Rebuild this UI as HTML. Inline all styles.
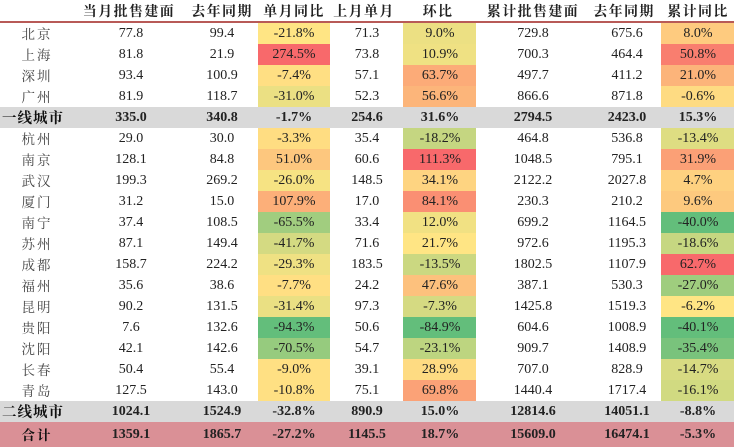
<!DOCTYPE html>
<html><head><meta charset="utf-8">
<style>
html,body{margin:0;padding:0;background:#fff;}
#t{position:relative;width:734px;height:447px;overflow:hidden;font-family:"Liberation Serif","Noto Serif CJK SC",serif;color:#222;}
.c{position:absolute;white-space:nowrap;transform:translateX(-50%);font-size:14px;line-height:21px;}
.h{position:absolute;top:1px;white-space:nowrap;transform:translateX(-50%);font-size:14px;font-weight:bold;letter-spacing:1.4px;font-family:"Noto Serif CJK SC","Liberation Serif",serif;line-height:20px;}
.bg{position:absolute;}
.city{font-family:"Noto Serif CJK SC",serif;letter-spacing:2px;color:#444;font-size:13.5px;}
.b{font-weight:bold;}
</style></head><body>
<div id="t">
<div class="bg" style="left:0;top:21px;width:734px;height:2px;background:#b85a57"></div>
</div>
<script>
const cities=["北京","上海","深圳","广州","一线城市","杭州","南京","武汉","厦门","南宁","苏州","成都","福州","昆明","贵阳","沈阳","长春","青岛","二线城市","合计"];
const monthSales=[77.8,81.8,93.4,81.9,335.0,29.0,128.1,199.3,31.2,37.4,87.1,158.7,35.6,90.2,7.6,42.1,50.4,127.5,1024.1,1359.1];
const lastYearMonth=[99.4,21.9,100.9,118.7,340.8,30.0,84.8,269.2,15.0,108.5,149.4,224.2,38.6,131.5,132.6,142.6,55.4,143.0,1524.9,1865.7];
const monthYoY=[-21.8,274.5,-7.4,-31.0,-1.7,-3.3,51.0,-26.0,107.9,-65.5,-41.7,-29.3,-7.7,-31.4,-94.3,-70.5,-9.0,-10.8,-32.8,-27.2];
const prevMonth=[71.3,73.8,57.1,52.3,254.6,35.4,60.6,148.5,17.0,33.4,71.6,183.5,24.2,97.3,50.6,54.7,39.1,75.1,890.9,1145.5];
const momChange=[9.0,10.9,63.7,56.6,31.6,-18.2,111.3,34.1,84.1,12.0,21.7,-13.5,47.6,-7.3,-84.9,-23.1,28.9,69.8,15.0,18.7];
const cumSales=[729.8,700.3,497.7,866.6,2794.5,464.8,1048.5,2122.2,230.3,699.2,972.6,1802.5,387.1,1425.8,604.6,909.7,707.0,1440.4,12814.6,15609.0];
const cumLastYear=[675.6,464.4,411.2,871.8,2423.0,536.8,795.1,2027.8,210.2,1164.5,1195.3,1107.9,530.3,1519.3,1008.9,1408.9,828.9,1717.4,14051.1,16474.1];
const cumYoY=[8.0,50.8,21.0,-0.6,15.3,-13.4,31.9,4.7,9.6,-40.0,-18.6,62.7,-27.0,-6.2,-40.1,-35.4,-14.7,-16.1,-8.8,-5.3];
const headers=["当月批售建面","去年同期","单月同比","上月单月","环比","累计批售建面","去年同期","累计同比"];
const subtotalRows=[4,18];
const totalRows=[19];

const T=document.getElementById('t');
const centers=[37,131,222,294,367,440,533,627,698];
const hCenters=[129,222,294,364,438,533,624,698];
const headerNames=["month-sales-header","last-year-header","month-yoy-header","prev-month-header","mom-header","cum-sales-header","cum-last-year-header","cum-yoy-header"];
headers.forEach((h,i)=>{
  const d=document.createElement('div');d.className='h';d.textContent=h;
  d.style.left=hCenters[i]+'px';
  
  
  T.appendChild(d);
});
function rowTop(i){return 23+i*21;}
function rowH(i){return i===cities.length-1?447-rowTop(i):21;}
function lerp(a,b,t){return Math.round(a+(b-a)*t);}
function mix(c1,c2,t){return 'rgb('+[0,1,2].map(k=>lerp(c1[k],c2[k],t)).join(',')+')';}
const G=[99,190,123],Y=[255,229,132],R=[248,105,107];
function scaleColor(arr,v){
  const vals=arr.filter((_,i)=>!subtotalRows.includes(i)&&!totalRows.includes(i)).slice().sort((a,b)=>a-b);
  const mn=vals[0],mx=vals[vals.length-1];
  const p=(vals.length-1)*0.5,lo=Math.floor(p),hi=Math.ceil(p);
  const md=vals[lo]+(vals[hi]-vals[lo])*(p-lo);
  if(v<=md) return mix(G,Y,(v-mn)/((md-mn)||1));
  return mix(Y,R,(v-md)/((mx-md)||1));
}
const cols=[monthSales,lastYearMonth,monthYoY,prevMonth,momChange,cumSales,cumLastYear,cumYoY];
const pct=[false,false,true,false,true,false,false,true];
const colored={2:[258,72],4:[403,73],7:[661,73]};
const colNames=["month-sales","last-year","month-yoy","prev-month","mom","cum-sales","cum-last-year","cum-yoy"];
cities.forEach((city,i)=>{
  const top=rowTop(i),h=rowH(i);
  const sub=subtotalRows.includes(i),tot=totalRows.includes(i);
  if(sub||tot){
    const bg=document.createElement('div');bg.className='bg';
    bg.style.cssText='left:0;top:'+top+'px;width:734px;height:'+h+'px;background:'+(tot?'#da9096':'#d9d9d9');
    
    
    T.appendChild(bg);
  } else {
    Object.keys(colored).forEach(k=>{
      const [x,w]=colored[k];
      const bg=document.createElement('div');bg.className='bg';
      bg.style.cssText='left:'+x+'px;top:'+top+'px;width:'+w+'px;height:'+h+'px;background:'+scaleColor(cols[k],cols[k][i]);
      
      
      T.appendChild(bg);
    });
  }
  const ty=top+(h-21)/2;
  const n=document.createElement('div');n.className='c city'+(sub||tot?' b':'');
  n.textContent=city;
  n.style.left=(sub?33:37)+'px';n.style.top=ty+'px';
  if(sub){n.style.color='#111';n.style.letterSpacing='1px';n.style.fontSize='14.5px';}
  if(tot){n.style.color='#111';}
  
  
  T.appendChild(n);
  cols.forEach((arr,k)=>{
    const d=document.createElement('div');d.className='c'+(sub||tot?' b':'');
    d.textContent=arr[i].toFixed(1)+(pct[k]?'%':'');
    d.style.left=centers[k+1]+'px';d.style.top=ty+'px';
    
    
    T.appendChild(d);
  });
});
</script>
</body></html>
